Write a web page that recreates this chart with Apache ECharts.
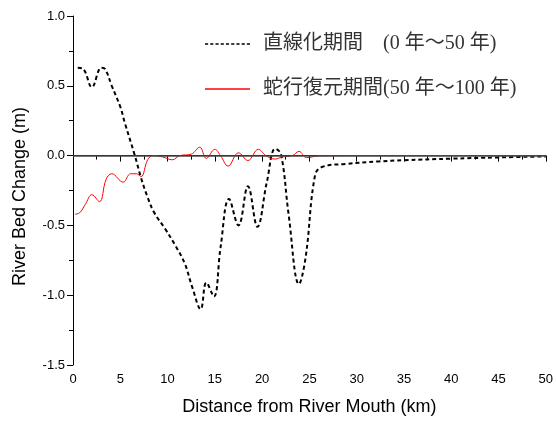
<!DOCTYPE html>
<html>
<head>
<meta charset="utf-8">
<script src="https://cdn.jsdelivr.net/npm/echarts@6/dist/echarts.min.js"></script>
<style>
  html, body { margin: 0; padding: 0; background: #fff; }
  #chart { width: 556px; height: 421px; }
</style>
</head>
<body>
<div id="chart"></div>
<script>
// 直線化期間 (0-50年) : [km, m]
const straightKm = [0.5, 1.1, 2.0, 3.0, 3.4, 4.1, 5.0, 5.5, 6.5, 7.2, 7.9, 8.6, 9.7, 10.7, 11.8, 12.6, 13.5, 14.1, 14.9, 15.6, 16.5, 17.5, 18.5, 19.5, 20.5, 21.4, 22.0, 22.8, 23.9, 24.6, 25.6, 26.4, 28.8, 32.3, 35, 40, 45, 50];
const straightVal = [0.63, 0.62, 0.49, 0.63, 0.62, 0.50, 0.35, 0.23, 0.01, -0.16, -0.30, -0.41, -0.52, -0.63, -0.77, -0.94, -1.10, -0.91, -1.01, -0.66, -0.31, -0.50, -0.22, -0.51, -0.19, 0.05, 0.01, -0.42, -0.92, -0.73, -0.14, -0.08, -0.06, -0.042, -0.033, -0.022, -0.013, -0.006];

// 蛇行復元期間 (50-100年)
const meanderKm = [0.2, 0.7, 1.3, 2.0, 2.8, 3.5, 4.1, 5.3, 6.1, 6.7, 7.2, 7.9, 8.5, 9.5, 10.5, 11.3, 12.5, 13.4, 14.1, 15.0, 15.6, 16.4, 17.5, 18.5, 19.6, 20.4, 21.4, 22.1, 23.2, 23.9, 24.7, 26.0, 30, 40, 50];
const meanderVal = [-0.42, -0.41, -0.35, -0.28, -0.33, -0.17, -0.13, -0.19, -0.13, -0.13, -0.15, -0.03, 0.0, -0.01, -0.03, 0.0, 0.01, 0.06, -0.02, 0.045, 0.0, -0.075, 0.02, -0.035, 0.045, 0.0, -0.025, -0.01, 0.0, 0.03, -0.015, -0.002, 0, 0, 0];

const seriesNames = ['直線化期間　(0 年～50 年)', '蛇行復元期間(50 年～100 年)'];

const pairs = (xs, ys) => xs.map((x, i) => [x, ys[i]]);

// legend icons: short dashes / plain line
const dashIcon = 'path://' + [0, 5, 10, 15, 20, 25, 30, 35, 40].map(x => `M${x},0h3v1h-3z`).join(' ');
const lineIcon = 'path://M0,0h45v1h-45z';

const chart = echarts.init(document.getElementById('chart'));
const axisFont = { fontFamily: 'Liberation Sans, Arial, sans-serif', fontSize: 13, color: '#000' };
const nameFont = { fontFamily: 'Liberation Sans, Arial, sans-serif', fontSize: 18, color: '#000' };

chart.setOption({
  animation: false,
  grid: { left: 73, right: 8, top: 16, bottom: 53 },
  legend: {
    orient: 'vertical',
    left: 200,
    top: 29,
    itemGap: 25,
    itemWidth: 45,
    itemHeight: 1.5,
    symbolKeepAspect: false,
    data: [
      { name: seriesNames[0], icon: dashIcon },
      { name: seriesNames[1], icon: lineIcon }
    ],
    textStyle: {
      fontFamily: 'Liberation Serif, Noto Sans CJK JP, serif',
      fontSize: 20,
      color: '#333',
      padding: [0, 0, 0, 8]
    }
  },
  xAxis: {
    type: 'value',
    min: 0,
    max: 50,
    interval: 5,
    name: 'Distance from River Mouth (km)',
    nameLocation: 'middle',
    nameGap: 33,
    nameTextStyle: nameFont,
    axisLine: { show: true, lineStyle: { color: '#000', width: 1 } },
    axisTick: { show: true, length: 6, lineStyle: { color: '#000' } },
    minorTick: { show: true, splitNumber: 2, length: 4, lineStyle: { color: '#000' } },
    axisLabel: axisFont,
    splitLine: { show: false }
  },
  yAxis: {
    type: 'value',
    min: -1.5,
    max: 1.0,
    interval: 0.5,
    name: 'River Bed Change (m)',
    nameLocation: 'middle',
    nameGap: 44,
    nameTextStyle: Object.assign({ padding: [0, 12, 0, 0] }, nameFont),
    axisLine: { show: true, lineStyle: { color: '#000', width: 1 } },
    axisTick: { show: true, length: 6, lineStyle: { color: '#000' } },
    minorTick: { show: true, splitNumber: 2, length: 4, lineStyle: { color: '#000' } },
    axisLabel: Object.assign({ formatter: v => v.toFixed(1) }, axisFont),
    splitLine: { show: false }
  },
  series: [
    {
      name: seriesNames[0],
      type: 'line',
      data: pairs(straightKm, straightVal),
      smooth: 0.4,
      symbol: 'none',
      color: '#000',
      lineStyle: { color: '#000', width: 2, type: [4, 3] },
      markLine: {
        silent: true,
        symbol: 'none',
        label: { show: false },
        lineStyle: { color: '#4a4a4a', width: 1.5, type: 'solid' },
        data: [{ yAxis: 0 }]
      }
    },
    {
      name: seriesNames[1],
      type: 'line',
      data: pairs(meanderKm, meanderVal),
      smooth: 0.4,
      symbol: 'none',
      color: '#ff0000',
      lineStyle: { color: '#ff0000', width: 1 }
    }
  ]
});
</script>
</body>
</html>
